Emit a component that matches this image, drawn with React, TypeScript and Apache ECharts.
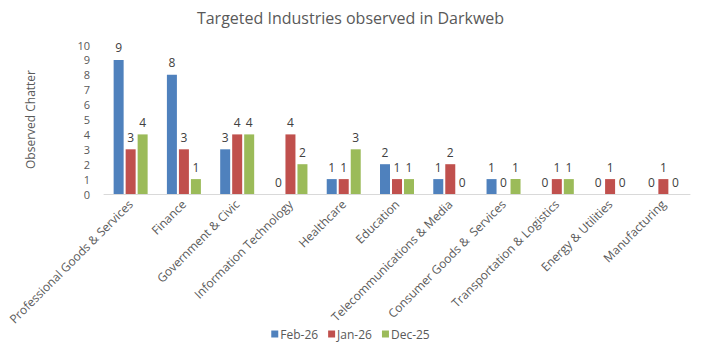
import React, { useEffect, useRef } from "react";
import * as echarts from "echarts";

const categories = [
  "Professional Goods & Services",
  "Finance",
  "Government & Civic",
  "Information Technology",
  "Healthcare",
  "Education",
  "Telecommunications & Media",
  "Consumer Goods &  Services",
  "Transportation & Logistics",
  "Energy & Utilities",
  "Manufacturing",
];
const feb26 = [9, 8, 3, 0, 1, 2, 1, 1, 0, 0, 0];
const jan26 = [3, 3, 4, 4, 1, 1, 2, 0, 1, 1, 1];
const dec25 = [4, 1, 4, 2, 3, 1, 0, 1, 1, 0, 0];
const seriesNames = ["Feb-26", "Jan-26", "Dec-25"];
const colors = ["#4F81BD", "#C0504D", "#9BBB59"];

const FONT = "Open Sans";

export default function App() {
  const ref = useRef<HTMLDivElement>(null);
  useEffect(() => {
    if (!ref.current) return;
    const chart = echarts.init(ref.current, undefined, { renderer: "svg" });
    const data = [feb26, jan26, dec25];
    chart.setOption({
      animation: false,
      backgroundColor: "#ffffff",
      textStyle: { fontFamily: FONT },
      title: {
        text: "Targeted Industries observed in Darkweb",
        left: "center",
        top: 5,
        textStyle: { fontSize: 16, fontWeight: 500, color: "#595959", fontFamily: FONT },
      },
      legend: {
        bottom: 8,
        left: "center",
        itemWidth: 7,
        itemHeight: 7,
        itemGap: 10,
        icon: "rect",
        textStyle: { fontSize: 12, color: "#595959", fontFamily: FONT, padding: [0, 0, 0, -3] },
        data: seriesNames,
      },
      grid: { left: 104, right: 11, top: 45, bottom: 159, containLabel: false },
      xAxis: {
        type: "category",
        data: categories,
        axisLine: { lineStyle: { color: "#d9d9d9", width: 1 } },
        axisTick: { show: false },
        axisLabel: {
          interval: 0,
          rotate: 45,
          fontSize: 12,
          color: "#595959",
          fontFamily: FONT,
          margin: 8,
        },
      },
      yAxis: {
        type: "value",
        min: 0,
        max: 10,
        interval: 1,
        name: "Observed Chatter",
        nameLocation: "middle",
        nameGap: 68,
        nameRotate: 90,
        nameTextStyle: { fontSize: 12, color: "#595959", fontFamily: FONT },
        axisLine: { show: false },
        axisTick: { show: false },
        splitLine: { show: false },
        axisLabel: { fontSize: 11, lineHeight: 12, color: "#595959", fontFamily: FONT, margin: 14 },
      },
      series: seriesNames.map((name, i) => ({
        name,
        type: "bar",
        data: data[i],
        barWidth: 10,
        barGap: "20%",
        itemStyle: { color: colors[i] },
        label: {
          show: true,
          position: "top",
          fontSize: 12,
          color: "#404040",
          fontFamily: FONT,
          distance: 6,
        },
      })),
    });
    return () => chart.dispose();
  }, []);
  return <div ref={ref} style={{ width: 701, height: 353, position: "absolute", left: 0, top: 0 }} />;
}
